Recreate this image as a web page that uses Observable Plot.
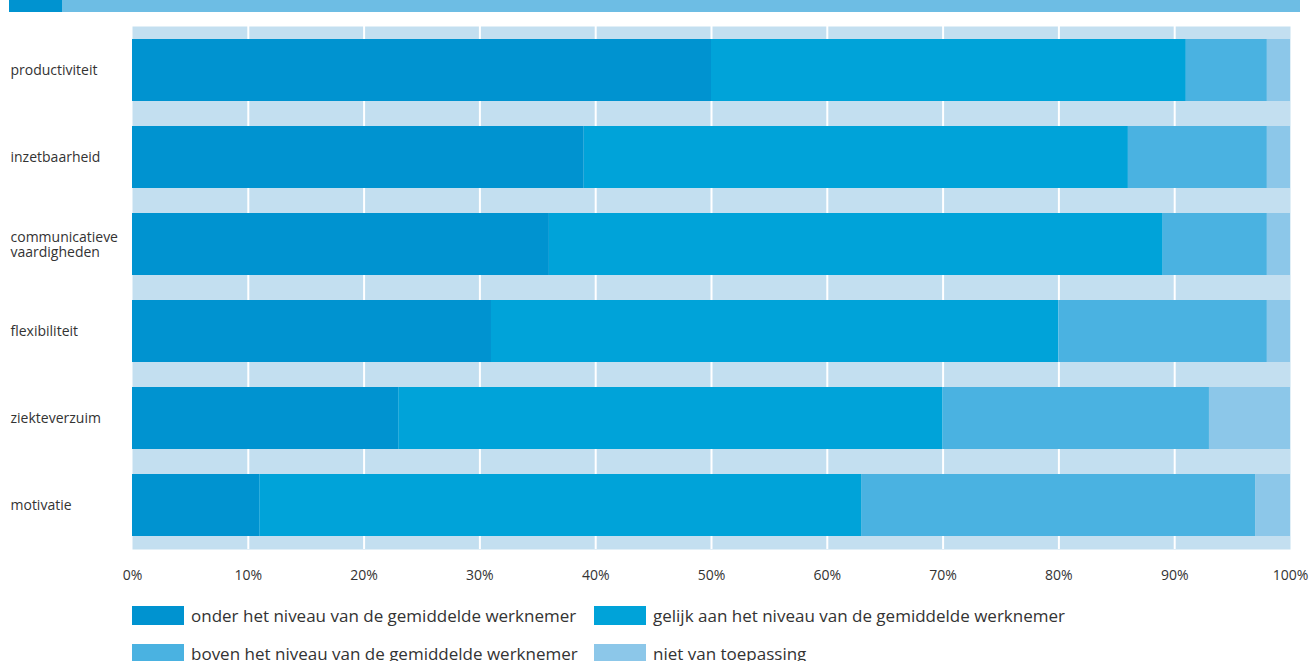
<!DOCTYPE html>
<html>
<head>
<meta charset="utf-8">
<script src="https://cdn.jsdelivr.net/npm/d3@7"></script>
<script src="https://cdn.jsdelivr.net/npm/@observablehq/plot@0.6"></script>
<style>
  body { margin: 0; background: #fff; font-family: "Open Sans", sans-serif; }
  #wrap { position: relative; width: 1309px; height: 661px; overflow: hidden; }
  #hdr1 { position: absolute; left: 9px; top: 0; width: 53px; height: 12px; background: #0093d0; }
  #hdr2 { position: absolute; left: 62px; top: 0; width: 1238px; height: 12px; background: #6dbde4; }
  #chart { position: absolute; left: 0; top: 0; }
  .leg { position: absolute; display: flex; align-items: center; font-size: 17px; color: #333; white-space: nowrap; line-height: 19px; }
  .sw { width: 52px; height: 19px; margin-right: 7px; flex: none; }
</style>
</head>
<body>
<div id="wrap">
  <div id="chart"></div>
  <div id="hdr1"></div>
  <div id="hdr2"></div>
  <div id="legend"></div>
</div>
<script>
const categories = ["productiviteit", "inzetbaarheid", "communicatieve\nvaardigheden", "flexibiliteit", "ziekteverzuim", "motivatie"];
const series = [
  "onder het niveau van de gemiddelde werknemer",
  "gelijk aan het niveau van de gemiddelde werknemer",
  "boven het niveau van de gemiddelde werknemer",
  "niet van toepassing"
];
const onder  = [50, 39, 36, 31, 23, 11];
const gelijk = [41, 47, 53, 49, 47, 52];
const boven  = [7, 12, 9, 18, 23, 34];
const niet   = [2, 2, 2, 2, 7, 3];
const xTicks = [0, 10, 20, 30, 40, 50, 60, 70, 80, 90, 100];
const colors = ["#0093d0", "#00a3d9", "#4ab2e1", "#8cc7e9"];

const valuesBySeries = [onder, gelijk, boven, niet];
const data = [];
categories.forEach((c, i) => {
  series.forEach((s, j) => data.push({category: c, series: s, value: valuesBySeries[j][i]}));
});

const chart = Plot.plot({
  width: 1309,
  height: 590,
  marginLeft: 132,
  marginRight: 19,
  marginTop: 26,
  marginBottom: 41,
  style: {fontFamily: "'Open Sans', sans-serif", fontSize: "14px", color: "#333", background: "transparent"},
  x: {domain: [0, 100]},
  y: {domain: categories, paddingInner: 0.287, paddingOuter: 0.1435},
  color: {domain: series, range: colors},
  marks: [
    Plot.frame({fill: "#c3dff0", stroke: null}),
    Plot.ruleX(xTicks.filter(d => d > 0 && d < 100), {stroke: "#ffffff", strokeWidth: 2}),
    Plot.barX(data, {x: "value", y: "category", fill: "series", order: series}),
    Plot.axisX({ticks: xTicks, tickSize: 0, tickPadding: 21, tickFormat: d => d + "%", label: null, fontSize: 14}),
    Plot.axisY({tickSize: 0, tickPadding: 0, textAnchor: "start", dx: -122, label: null, fontSize: 14, lineHeight: 1.08})
  ]
});
document.getElementById("chart").appendChild(chart);

const legendPos = [[132, 606], [594, 606], [132, 644], [594, 644]];
const legend = document.getElementById("legend");
series.forEach((s, i) => {
  const el = document.createElement("div");
  el.className = "leg";
  el.style.left = legendPos[i][0] + "px";
  el.style.top = legendPos[i][1] + "px";
  el.innerHTML = `<div class="sw" style="background:${colors[i]}"></div><span>${s}</span>`;
  legend.appendChild(el);
});
</script>
</body>
</html>
